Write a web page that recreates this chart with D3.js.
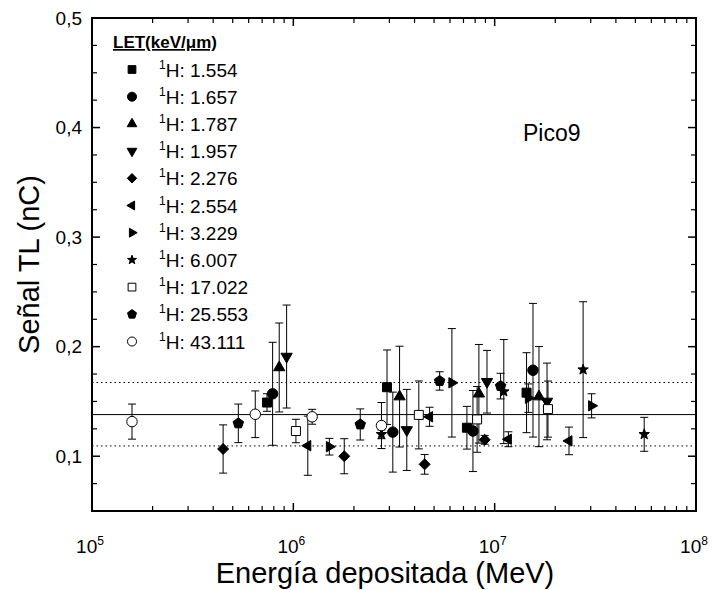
<!DOCTYPE html>
<html>
<head>
<meta charset="utf-8">
<script src="https://cdn.jsdelivr.net/npm/d3@7"></script>
<style>
  body { margin: 0; background: #fff; }
  svg { display: block; font-family: "Liberation Sans", Arial, sans-serif; }
</style>
</head>
<body>
<div id="chart"></div>
<script>
// [energy (MeV), TL signal (nC), error (nC)]
const let1554 = [[7.40e5, 0.149, 0.008], [2.92e6, 0.163, 0.034], [7.28e6, 0.126, 0.0195], [1.44e7, 0.158, 0.0365]];
const let1657 = [[7.89e5, 0.157, 0.047], [3.12e6, 0.122, 0.0365], [7.80e6, 0.123, 0.037], [1.55e7, 0.1785, 0.061]];
const let1787 = [[8.51e5, 0.181, 0.0406], [3.37e6, 0.1544, 0.046], [8.35e6, 0.157, 0.045], [1.66e7, 0.1544, 0.0457]];
const let1957 = [[9.26e5, 0.191, 0.047], [3.66e6, 0.124, 0.037], [9.16e6, 0.168, 0.0286], [1.82e7, 0.150, 0.035]];
const let2276 = [[4.48e5, 0.1066, 0.022], [1.79e6, 0.100, 0.016], [4.49e6, 0.0926, 0.009], [8.92e6, 0.115, 0.004]];
const let2554 = [[1.18e6, 0.1096, 0.027], [4.75e6, 0.136, 0.0087], [1.17e7, 0.1155, 0.0068], [2.34e7, 0.114, 0.0126]];
const let3229 = [[1.51e6, 0.1087, 0.0076], [6.13e6, 0.167, 0.0495], [1.47e7, 0.153, 0.013], [3.03e7, 0.146, 0.011]];
const let6007 = [[2.74e6, 0.120, 0.004], [1.11e7, 0.159, 0.0475], [2.75e7, 0.179, 0.062], [5.53e7, 0.120, 0.0155]];
const let17022 = [[1.03e6, 0.123, 0.0107], [4.20e6, 0.1377, 0.031], [8.18e6, 0.1336, 0.03], [1.84e7, 0.143, 0.0256]];
const let25553 = [[5.33e5, 0.130, 0.0176], [2.15e6, 0.129, 0.0142], [5.33e6, 0.1687, 0.0084], [1.07e7, 0.164, 0.0117]];
const let43111 = [[1.58e5, 0.1316, 0.016], [6.47e5, 0.1383, 0.0213], [1.24e6, 0.136, 0.0068], [2.74e6, 0.128, 0.021]];

const letLabels = ["1.554", "1.657", "1.787", "1.957", "2.276", "2.554", "3.229", "6.007", "17.022", "25.553", "43.111"];
const seriesData = [let1554, let1657, let1787, let1957, let2276, let2554, let3229, let6007, let17022, let25553, let43111];

const meanLine = 0.138;
const bandLines = [0.1673, 0.1094];

const yTicks = [0.1, 0.2, 0.3, 0.4, 0.5];
const yTickLabels = ["0,1", "0,2", "0,3", "0,4", "0,5"];
const xTicks = [1e5, 1e6, 1e7, 1e8];
const xTickExps = ["5", "6", "7", "8"];

// marker style per series
const shapes = ["square", "circle", "up", "down", "diamond", "left", "right", "star", "square", "pentagon", "circle"];
const hollow = [false, false, false, false, false, false, false, false, true, false, true];

const width = 712, height = 590;
const svg = d3.select("#chart").append("svg")
    .attr("width", width)
    .attr("height", height);

const x = d3.scaleLog().domain([1e5, 1e8]).range([92, 696]);
const y = d3.scaleLinear().domain([0.05, 0.5]).range([511, 18]);

function polygon(n, r, rot) {
    const pts = [];
    for (let i = 0; i < n; i++) {
        const a = rot + i * 2 * Math.PI / n;
        pts.push([r * Math.cos(a), r * Math.sin(a)]);
    }
    return "M" + pts.map(p => p[0].toFixed(2) + "," + p[1].toFixed(2)).join("L") + "Z";
}

function shapePath(type, s) {
    if (type === "square") return `M${-s * 0.9},${-s * 0.9}H${s * 0.9}V${s * 0.9}H${-s * 0.9}Z`;
    if (type === "circle") return d3.symbol(d3.symbolCircle, Math.PI * s * s * 1.1)();
    if (type === "up") return polygon(3, s * 1.3, -Math.PI / 2);
    if (type === "down") return polygon(3, s * 1.3, Math.PI / 2);
    if (type === "left") return polygon(3, s * 1.2, Math.PI);
    if (type === "right") return polygon(3, s * 1.2, 0);
    if (type === "diamond") return polygon(4, s * 1.1, 0);
    if (type === "pentagon") return polygon(5, s * 1.1, -Math.PI / 2);
    if (type === "star") {
        const pts = [];
        for (let i = 0; i < 10; i++) {
            const r = i % 2 === 0 ? s * 1.1 : s * 0.45;
            const a = -Math.PI / 2 + i * Math.PI / 5;
            pts.push([r * Math.cos(a), r * Math.sin(a)]);
        }
        return "M" + pts.map(p => p[0].toFixed(2) + "," + p[1].toFixed(2)).join("L") + "Z";
    }
}

// reference lines
svg.append("line")
    .attr("x1", x.range()[0]).attr("x2", x.range()[1])
    .attr("y1", y(meanLine)).attr("y2", y(meanLine))
    .attr("stroke", "#000").attr("stroke-width", 1);
svg.selectAll(".band")
    .data(bandLines)
    .enter().append("line")
    .attr("x1", x.range()[0]).attr("x2", x.range()[1])
    .attr("y1", d => y(d)).attr("y2", d => y(d))
    .attr("stroke", "#000").attr("stroke-width", 1)
    .attr("stroke-dasharray", "1.5,3");

// error bars + markers
const capW = 4;
seriesData.forEach((data, si) => {
    const g = svg.append("g");
    const eb = g.selectAll(".err").data(data).enter().append("g");
    eb.append("line")
        .attr("x1", d => x(d[0])).attr("x2", d => x(d[0]))
        .attr("y1", d => y(d[1] - d[2])).attr("y2", d => y(d[1] + d[2]))
        .attr("stroke", "#000").attr("stroke-width", 1);
    eb.append("line")
        .attr("x1", d => x(d[0]) - capW).attr("x2", d => x(d[0]) + capW)
        .attr("y1", d => y(d[1] + d[2])).attr("y2", d => y(d[1] + d[2]))
        .attr("stroke", "#000").attr("stroke-width", 1);
    eb.append("line")
        .attr("x1", d => x(d[0]) - capW).attr("x2", d => x(d[0]) + capW)
        .attr("y1", d => y(d[1] - d[2])).attr("y2", d => y(d[1] - d[2]))
        .attr("stroke", "#000").attr("stroke-width", 1);
    g.selectAll(".pt").data(data).enter().append("path")
        .attr("d", shapePath(shapes[si], 5))
        .attr("transform", d => `translate(${x(d[0])},${y(d[1])})`)
        .attr("fill", hollow[si] ? "#fff" : "#000")
        .attr("stroke", "#000").attr("stroke-width", 1);
});

// frame and axes (ticks inward on all four sides)
const [x0, x1] = x.range();
const [yb, yt] = y.range();
const minorX = [];
for (let e = 5; e < 8; e++) for (let k = 2; k <= 9; k++) minorX.push(k * Math.pow(10, e));
const minorY = d3.range(0.075, 0.5, 0.025).filter(v => Math.abs(v * 10 - Math.round(v * 10)) > 1e-6);

const axes = svg.append("g").attr("stroke", "#000");
axes.selectAll(".xmaj").data(xTicks).enter().append("line")
    .attr("x1", d => x(d)).attr("x2", d => x(d)).attr("y1", yb).attr("y2", yb - 8).attr("stroke-width", 1.5);
axes.selectAll(".xmajt").data(xTicks).enter().append("line")
    .attr("x1", d => x(d)).attr("x2", d => x(d)).attr("y1", yt).attr("y2", yt + 8).attr("stroke-width", 1.5);
axes.selectAll(".xmin").data(minorX).enter().append("line")
    .attr("x1", d => x(d)).attr("x2", d => x(d)).attr("y1", yb).attr("y2", yb - 5).attr("stroke-width", 1.2);
axes.selectAll(".xmint").data(minorX).enter().append("line")
    .attr("x1", d => x(d)).attr("x2", d => x(d)).attr("y1", yt).attr("y2", yt + 5).attr("stroke-width", 1.2);
axes.selectAll(".ymaj").data(yTicks).enter().append("line")
    .attr("x1", x0).attr("x2", x0 + 8).attr("y1", d => y(d)).attr("y2", d => y(d)).attr("stroke-width", 1.5);
axes.selectAll(".ymajr").data(yTicks).enter().append("line")
    .attr("x1", x1).attr("x2", x1 - 8).attr("y1", d => y(d)).attr("y2", d => y(d)).attr("stroke-width", 1.5);
axes.selectAll(".ymin").data(minorY).enter().append("line")
    .attr("x1", x0).attr("x2", x0 + 5).attr("y1", d => y(d)).attr("y2", d => y(d)).attr("stroke-width", 1.2);
axes.selectAll(".yminr").data(minorY).enter().append("line")
    .attr("x1", x1).attr("x2", x1 - 5).attr("y1", d => y(d)).attr("y2", d => y(d)).attr("stroke-width", 1.2);
svg.append("rect")
    .attr("x", x0).attr("y", yt).attr("width", x1 - x0).attr("height", yb - yt)
    .attr("fill", "none").attr("stroke", "#000").attr("stroke-width", 2);

// tick labels
svg.selectAll(".ylab").data(yTicks).enter().append("text")
    .attr("x", 82).attr("y", d => y(d)).attr("dy", "0.35em")
    .attr("text-anchor", "end").attr("font-size", 19)
    .text((d, i) => yTickLabels[i]);
const xl = svg.selectAll(".xlab").data(xTicks).enter().append("text")
    .attr("x", d => x(d) - 2).attr("y", 553)
    .attr("text-anchor", "middle").attr("font-size", 19);
xl.append("tspan").text("10");
xl.append("tspan").attr("dy", -8).attr("font-size", 12).text((d, i) => xTickExps[i]);

// axis titles
svg.append("text")
    .attr("x", (x0 + x1) / 2 - 9).attr("y", 583)
    .attr("text-anchor", "middle").attr("font-size", 29)
    .text("Energía depositada (MeV)");
svg.append("text")
    .attr("transform", `translate(39,${(yt + yb) / 2}) rotate(-90)`)
    .attr("text-anchor", "middle").attr("font-size", 29)
    .text("Señal TL (nC)");

// annotation
svg.append("text")
    .attr("x", 523).attr("y", 141).attr("font-size", 23).text("Pico9");

// legend
const leg = svg.append("g");
leg.append("text")
    .attr("x", 113).attr("y", 48)
    .attr("font-size", 17).attr("font-weight", "bold")
    .attr("text-decoration", "underline")
    .text("LET(keV/μm)");
letLabels.forEach((lab, i) => {
    const cy = 69.5 + i * 27.2;
    leg.append("path")
        .attr("d", shapePath(shapes[i], 4.3))
        .attr("transform", `translate(132,${cy})`)
        .attr("fill", hollow[i] ? "#fff" : "#000")
        .attr("stroke", "#000").attr("stroke-width", 1);
    const t = leg.append("text").attr("x", 159).attr("y", cy + 7).attr("font-size", 19);
    t.append("tspan").attr("font-size", 12).attr("dy", -8).text("1");
    t.append("tspan").attr("dy", 8).text("H: " + lab);
});
</script>
</body>
</html>
